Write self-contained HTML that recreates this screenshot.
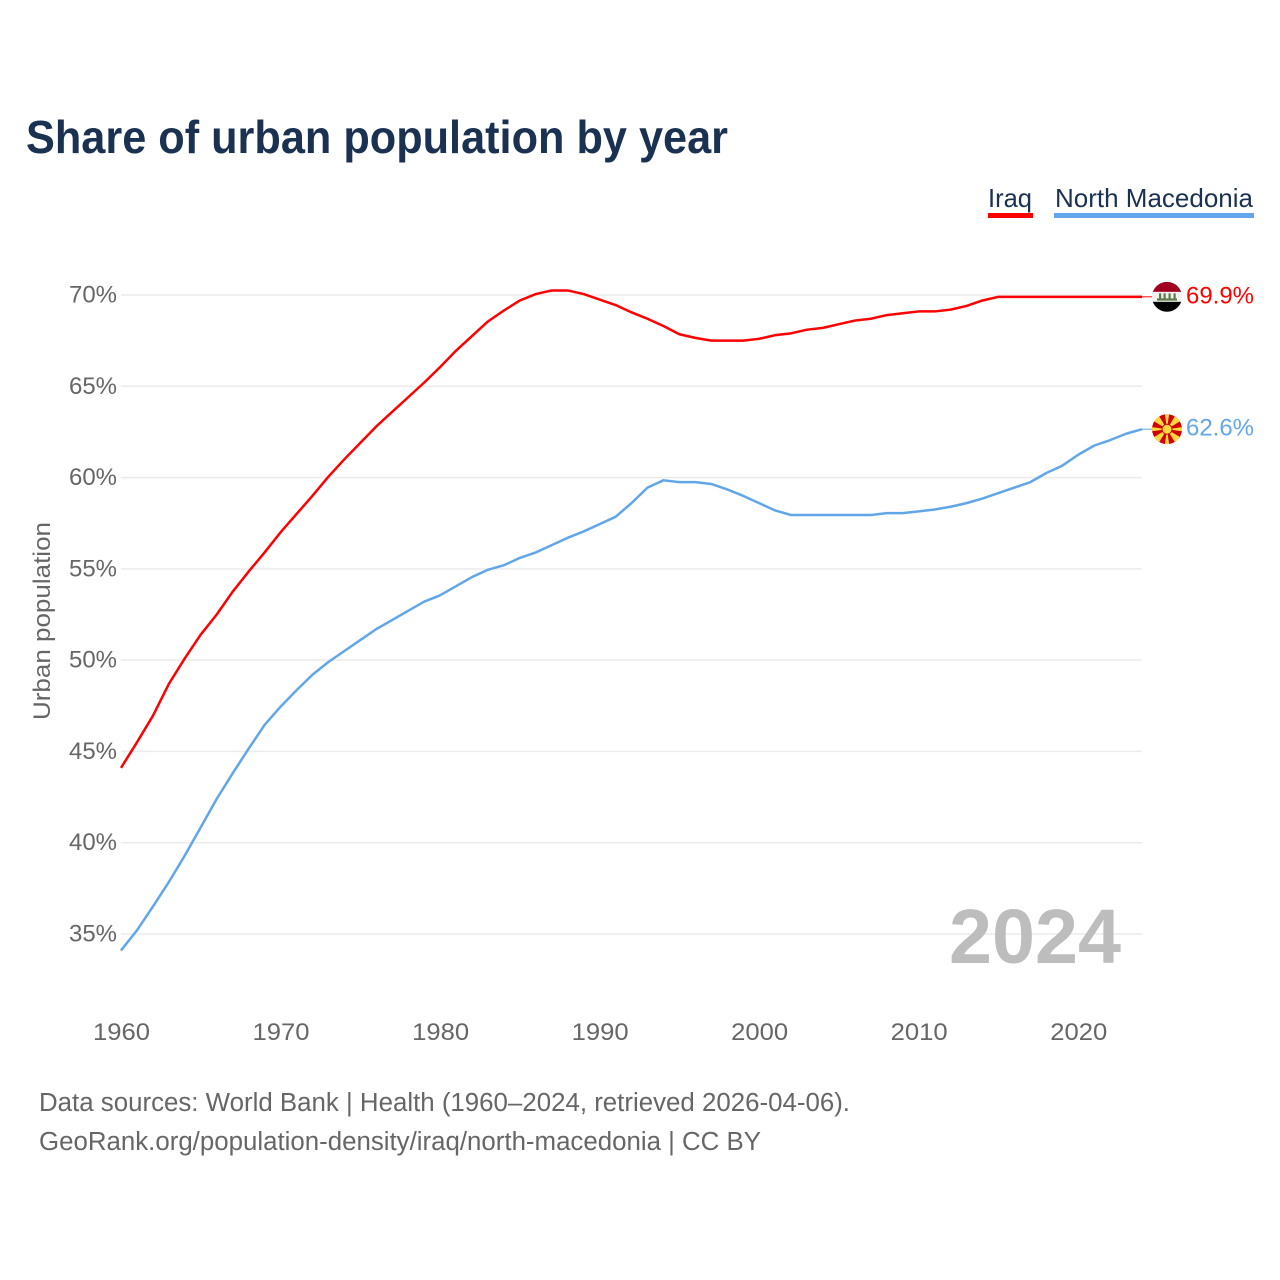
<!DOCTYPE html>
<html lang="en">
<head>
<meta charset="utf-8">
<title>Share of urban population by year</title>
<style>
html,body{margin:0;padding:0;background:#fff;}
svg{display:block;font-family:"Liberation Sans",sans-serif;}
</style>
</head>
<body>
<svg id="chart" width="1280" height="1280" viewBox="0 0 1280 1280" xmlns="http://www.w3.org/2000/svg">
  <defs>
    <clipPath id="flag-clip-iraq"><circle cx="0" cy="0" r="15"/></clipPath>
    <clipPath id="flag-clip-mk"><circle cx="0" cy="0" r="15"/></clipPath>
  </defs>
  <text x="26" y="153" font-size="46" font-weight="700" fill="#1a3152" textLength="702" lengthAdjust="spacingAndGlyphs">Share of urban population by year</text>

  <text x="988" y="207" font-size="26" fill="#1a3152" textLength="44" lengthAdjust="spacingAndGlyphs">Iraq</text>
  <rect x="988" y="213" width="45" height="5" fill="#ff0000"/>
  <text x="1055" y="207" font-size="26" fill="#1a3152" textLength="198" lengthAdjust="spacingAndGlyphs">North Macedonia</text>
  <rect x="1054" y="213" width="200" height="5" fill="#62a6ea"/>

  <g id="grid"></g>
  <g id="y-axis"></g>
  <g id="x-axis"></g>
  <text transform="translate(50,621) rotate(-90)" text-anchor="middle" font-size="24" fill="#666666" textLength="198" lengthAdjust="spacingAndGlyphs">Urban population</text>
  <text x="949" y="963" font-size="77" font-weight="700" fill="#bdbdbd" textLength="172" lengthAdjust="spacingAndGlyphs">2024</text>
  <g id="series"></g>

  <g id="flag-iraq" clip-path="url(#flag-clip-iraq)">
    <rect x="-15" y="-15" width="30" height="30" fill="#f0f0f0"/>
    <rect x="-15" y="-15" width="30" height="10" fill="#a0001e"/>
    <rect x="-15" y="5" width="30" height="10" fill="#000000"/>
    <rect x="-10" y="1.6" width="20" height="2.2" fill="#5f7a4a"/>
    <rect x="-8" y="-3.5" width="2.2" height="5.5" fill="#5f7a4a"/>
    <rect x="-3.5" y="-3.5" width="2.2" height="5.5" fill="#5f7a4a"/>
    <rect x="1.5" y="-3.5" width="2.2" height="5.5" fill="#5f7a4a"/>
    <rect x="6.5" y="-3.5" width="2.2" height="5.5" fill="#5f7a4a"/>
  </g>
  <g id="flag-mk" clip-path="url(#flag-clip-mk)">
    <rect x="-15" y="-15" width="30" height="30" fill="#d20000"/>
    <g id="flag-mk-rays"></g>
    <circle cx="0" cy="0" r="5.4" fill="#d20000"/>
    <circle cx="0" cy="0" r="4.5" fill="#ffd83d"/>
  </g>
  <text id="label-iraq" x="1186" font-size="24" fill="#ff0000" textLength="68" lengthAdjust="spacingAndGlyphs"></text>
  <text id="label-mk" x="1186" font-size="24" fill="#62a6ea" textLength="68" lengthAdjust="spacingAndGlyphs"></text>

  <text x="39" y="1111" font-size="25.5" fill="#666666" textLength="811" lengthAdjust="spacingAndGlyphs">Data sources: World Bank | Health (1960–2024, retrieved 2026-04-06).</text>
  <a><text x="39" y="1150" font-size="25.5" fill="#666666" textLength="722" lengthAdjust="spacingAndGlyphs">GeoRank.org/population-density/iraq/north-macedonia | CC BY</text></a>
</svg>
<script>
const startYear = 1960;
const yTicks = [35, 40, 45, 50, 55, 60, 65, 70];
const xTicks = [1960, 1970, 1980, 1990, 2000, 2010, 2020];
const iraqValues = [44.1,45.5,46.95,48.7,50.1,51.4,52.5,53.75,54.85,55.9,57.0,58.0,59.0,60.05,61.0,61.9,62.8,63.6,64.4,65.2,66.05,66.95,67.75,68.55,69.15,69.7,70.05,70.25,70.25,70.05,69.75,69.45,69.05,68.7,68.3,67.85,67.65,67.5,67.5,67.5,67.6,67.8,67.9,68.1,68.2,68.4,68.6,68.7,68.9,69.0,69.1,69.1,69.2,69.4,69.7,69.9,69.9,69.9,69.9,69.9,69.9,69.9,69.9,69.9,69.9];
const northMacedoniaValues = [34.1,35.2,36.5,37.85,39.3,40.85,42.4,43.8,45.15,46.45,47.45,48.35,49.2,49.9,50.5,51.1,51.7,52.2,52.7,53.2,53.55,54.05,54.55,54.95,55.2,55.6,55.9,56.3,56.7,57.05,57.45,57.85,58.6,59.45,59.85,59.75,59.75,59.65,59.35,59.0,58.6,58.2,57.95,57.95,57.95,57.95,57.95,57.95,58.05,58.05,58.15,58.25,58.4,58.6,58.85,59.15,59.45,59.75,60.25,60.65,61.25,61.75,62.05,62.4,62.65];

const NS = 'http://www.w3.org/2000/svg';
const plotLeft = 121, plotRight = 1142;
function xScale(year) { return plotLeft + (year - 1960) * (plotRight - plotLeft) / 64; }
function yScale(v) { return 295 + (70 - v) * (934 - 295) / 35; }
function make(tag, attrs, parent) {
  const el = document.createElementNS(NS, tag);
  for (const k in attrs) el.setAttribute(k, attrs[k]);
  parent.appendChild(el);
  return el;
}

const grid = document.getElementById('grid');
const yAxis = document.getElementById('y-axis');
const xAxis = document.getElementById('x-axis');
const series = document.getElementById('series');

yTicks.forEach(function (t) {
  const line = make('line', {x1: plotLeft, x2: plotRight, y1: yScale(t), y2: yScale(t), stroke: '#ebebeb', 'stroke-width': 1.5}, grid);
  
  
  const label = make('text', {x: 117, y: yScale(t) + 7.5, 'text-anchor': 'end', 'font-size': 24, fill: '#666666', textLength: 48, lengthAdjust: 'spacingAndGlyphs'}, yAxis);
  
  
  label.textContent = t + '%';
});

xTicks.forEach(function (t) {
  const label = make('text', {x: xScale(t) + 0.5, y: 1040, 'text-anchor': 'middle', 'font-size': 24, fill: '#666666', textLength: 57, lengthAdjust: 'spacingAndGlyphs'}, xAxis);
  
  
  label.textContent = t;
});

function drawSeries(values, color, lineName, connectorName) {
  const pts = values.map(function (v, i) { return xScale(startYear + i).toFixed(2) + ',' + yScale(v).toFixed(2); }).join(' ');
  const line = make('polyline', {points: pts, fill: 'none', stroke: color, 'stroke-width': 2.5, 'stroke-linejoin': 'round'}, series);
  
  
  const lastY = yScale(values[values.length - 1]);
  const conn = make('line', {x1: plotRight, x2: 1153, y1: lastY, y2: lastY, stroke: color, 'stroke-width': 1}, series);
  
  
  return lastY;
}
const iraqY = drawSeries(iraqValues, '#ff0000', 'line-iraq', 'connector-iraq');
const mkY = drawSeries(northMacedoniaValues, '#62a6ea', 'line-north-macedonia', 'connector-north-macedonia');

document.getElementById('flag-iraq').setAttribute('transform', 'translate(1167,' + iraqY + ')');
document.getElementById('flag-mk').setAttribute('transform', 'translate(1167,' + mkY + ')');

const labelIraq = document.getElementById('label-iraq');
labelIraq.setAttribute('y', iraqY + 6.5);
labelIraq.textContent = iraqValues[iraqValues.length - 1].toFixed(1) + '%';
const labelMk = document.getElementById('label-mk');
labelMk.setAttribute('y', mkY + 6.5);
labelMk.textContent = (Math.floor(northMacedoniaValues[northMacedoniaValues.length - 1] * 10) / 10).toFixed(1) + '%';

const rays = document.getElementById('flag-mk-rays');
for (let i = 0; i < 8; i++) {
  const a = i * Math.PI / 4;
  const w = i % 2 === 0 ? 0.14 : 0.24;
  const p = [0, 0, 17 * Math.cos(a - w), 17 * Math.sin(a - w), 17 * Math.cos(a + w), 17 * Math.sin(a + w)];
  const ray = make('polygon', {points: p.map(function (n) { return n.toFixed(2); }).join(' '), fill: '#ffd83d'}, rays);
  
  
}
</script>
</body>
</html>
